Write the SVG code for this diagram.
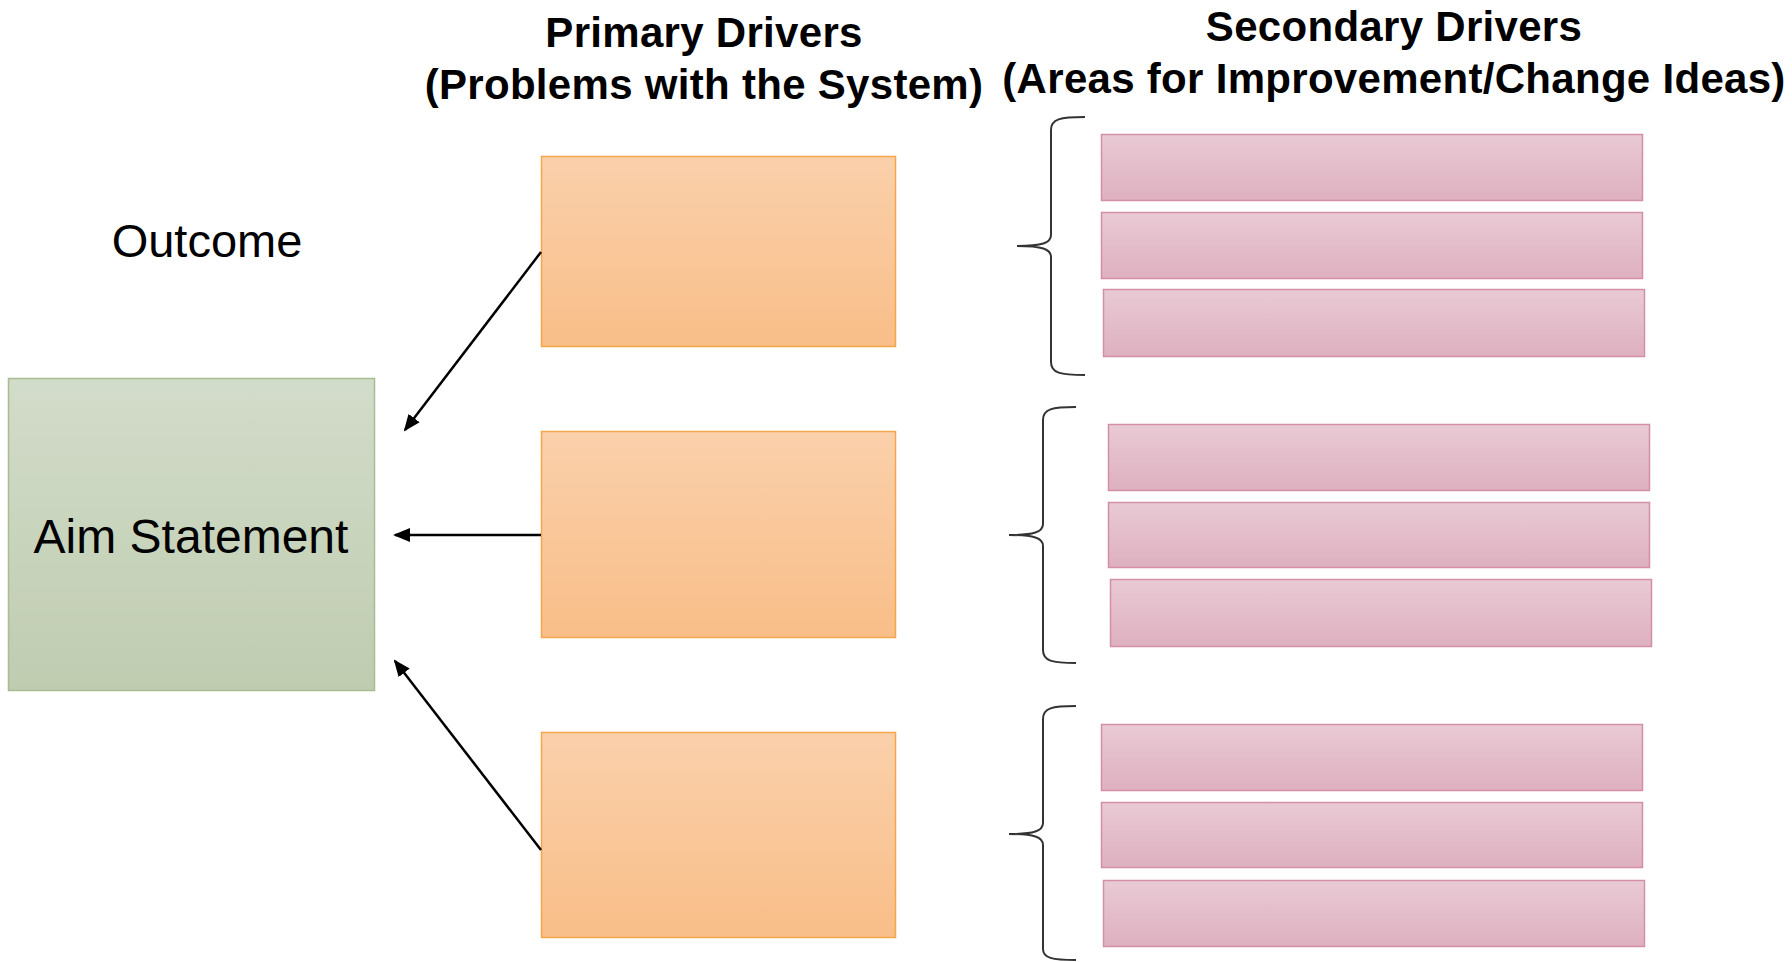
<svg xmlns="http://www.w3.org/2000/svg" width="1792" height="962" viewBox="0 0 1792 962">
<defs>
<linearGradient id="gGreen" x1="0" y1="0" x2="0" y2="1"><stop offset="0" stop-color="#D2DCCA"/><stop offset="1" stop-color="#C0CCB0"/></linearGradient>
<linearGradient id="gOrange" x1="0" y1="0" x2="0" y2="1"><stop offset="0" stop-color="#FAD0AB"/><stop offset="1" stop-color="#F9BE88"/></linearGradient>
<linearGradient id="gPink" x1="0" y1="0" x2="0" y2="1"><stop offset="0" stop-color="#E9CAD4"/><stop offset="1" stop-color="#DEB0C0"/></linearGradient>
<marker id="arrow" markerUnits="userSpaceOnUse" markerWidth="18" markerHeight="14" refX="15" refY="7" orient="auto"><path d="M0,0 L17,7 L0,14 z" fill="#000"/></marker>
</defs>
<style>
text{font-family:"Liberation Sans",Arial,sans-serif;fill:#000}
.title{font-size:42px;font-weight:bold;text-anchor:middle;letter-spacing:0.3px}
.big{font-size:47px;text-anchor:middle}
.aim{fill:url(#gGreen);stroke:#A9BC94;stroke-width:1.5}
.prim{fill:url(#gOrange);stroke:#F5A54A;stroke-width:1.5}
.sec{fill:url(#gPink);stroke:#D48FA7;stroke-width:1.5}
.conn{stroke:#000;stroke-width:2.5;fill:none;marker-end:url(#arrow)}
.brace{stroke:#333;stroke-width:2;fill:none}
</style>
<g id="headers">
<text class="title" x="704" y="47">Primary Drivers</text>
<text class="title" x="704" y="99">(Problems with the System)</text>
<text class="title" x="1394" y="41">Secondary Drivers</text>
<text class="title" x="1394" y="93">(Areas for Improvement/Change Ideas)</text>
<text class="big" x="207" y="257">Outcome</text>
</g>
<g id="aim">
<rect class="aim" x="8.5" y="378.5" width="366" height="312"/>
<text class="big" x="191" y="553" style="font-size:48px">Aim Statement</text>
</g>
<g id="primary1"><rect class="prim" x="541.5" y="156.5" width="354" height="190"/></g>
<g id="primary2"><rect class="prim" x="541.5" y="431.5" width="354" height="206"/></g>
<g id="primary3"><rect class="prim" x="541.5" y="732.5" width="354" height="205"/></g>
<g id="secondary1">
<path class="brace" d="M1085,117 C1060,117 1051,119 1051,130 L1051,235 C1051,243 1042,246 1017,246 C1042,246 1051,249 1051,257 L1051,362 C1051,373 1060,375 1085,375"/>
<rect class="sec" x="1101.5" y="134.5" width="541" height="66"/>
<rect class="sec" x="1101.5" y="212.5" width="541" height="66"/>
<rect class="sec" x="1103.5" y="289.5" width="541" height="67"/>
</g>
<g id="secondary2">
<path class="brace" d="M1076,407 C1052,407 1043,409 1043,420 L1043,524 C1043,532 1034,535 1009,535 C1034,535 1043,538 1043,546 L1043,650 C1043,661 1052,663 1076,663"/>
<rect class="sec" x="1108.5" y="424.5" width="541" height="66"/>
<rect class="sec" x="1108.5" y="502.5" width="541" height="65"/>
<rect class="sec" x="1110.5" y="579.5" width="541" height="67"/>
</g>
<g id="secondary3">
<path class="brace" d="M1076,706 C1052,706 1043,708 1043,719 L1043,823 C1043,831 1034,834 1009,834 C1034,834 1043,837 1043,845 L1043,949 C1043,958 1052,960 1076,960"/>
<rect class="sec" x="1101.5" y="724.5" width="541" height="66"/>
<rect class="sec" x="1101.5" y="802.5" width="541" height="65"/>
<rect class="sec" x="1103.5" y="880.5" width="541" height="66"/>
</g>
<g id="connectors">
<line class="conn" x1="541" y1="252" x2="405" y2="430"/>
<line class="conn" x1="541" y1="535" x2="395" y2="535"/>
<line class="conn" x1="541" y1="850" x2="395" y2="661"/>
</g>
</svg>
